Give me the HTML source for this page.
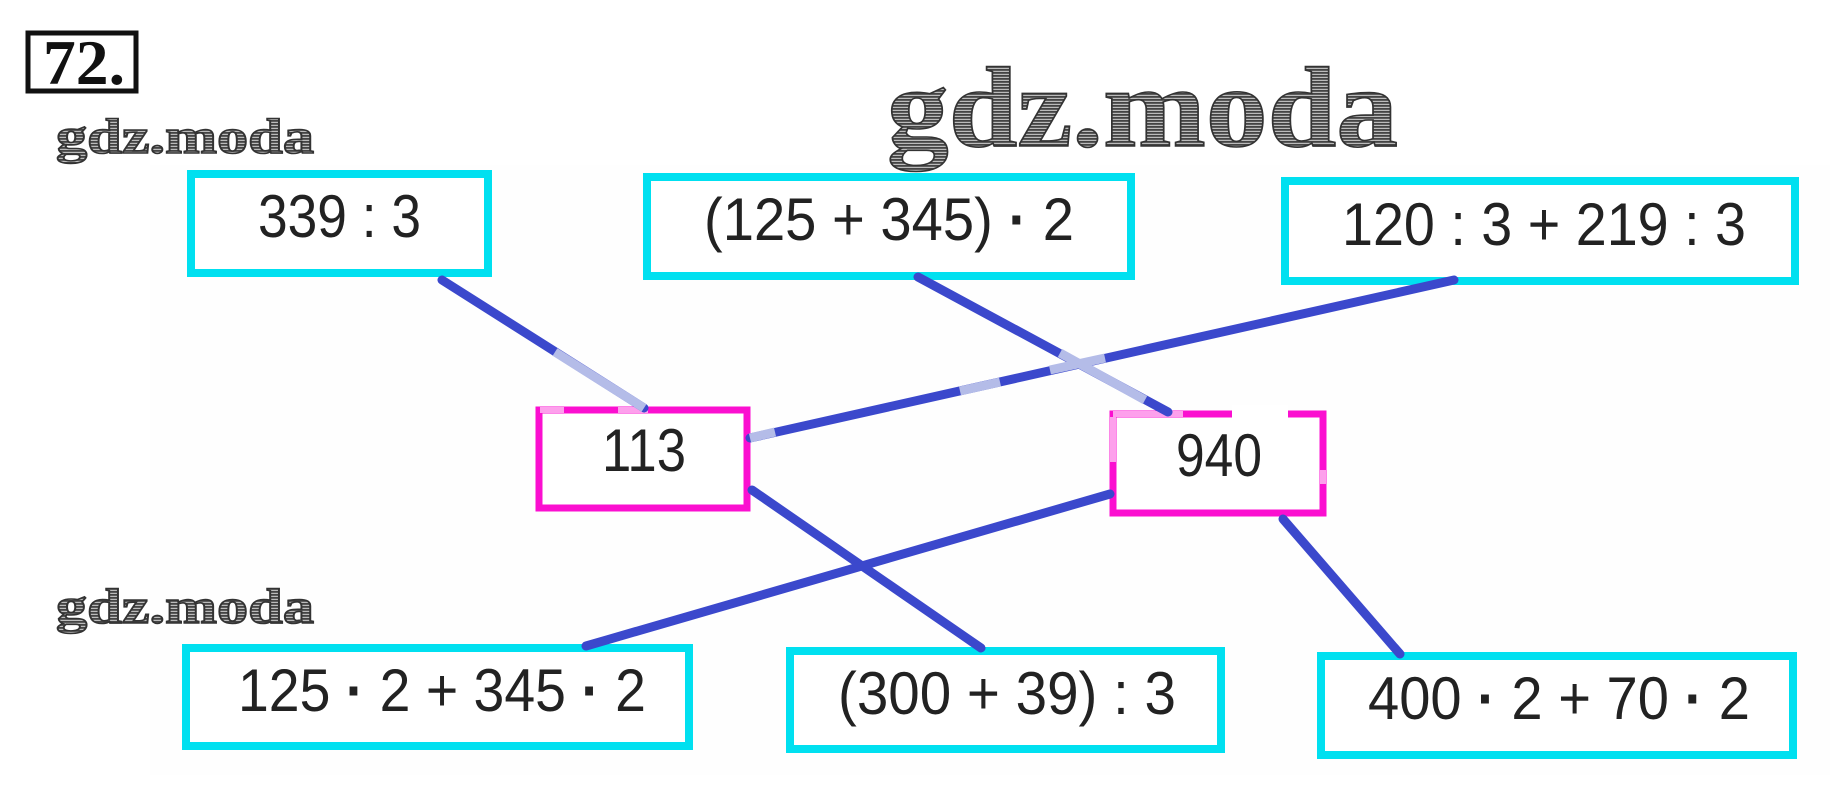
<!DOCTYPE html>
<html><head><meta charset="utf-8"><style>
html,body{margin:0;padding:0;background:#fff;width:1842px;height:809px;overflow:hidden}
svg{display:block}
.n{font-family:"Liberation Sans",sans-serif;font-size:60px;fill:#222}
.w{font-family:"Liberation Serif",serif;font-weight:bold;fill:url(#h);stroke:#333;stroke-width:1.6}
.c{fill:#fff;stroke:#00e0f0;stroke-width:8}
.m{fill:#fff;stroke:#fb0fd0;stroke-width:7}
.l{stroke:#3b48cc;fill:none;stroke-linecap:round}
.f{stroke:#b4bce8;fill:none;stroke-width:9}
.d{font-weight:bold}
</style></head><body>
<svg width="1842" height="809" viewBox="0 0 1842 809" xmlns="http://www.w3.org/2000/svg">
<defs><pattern id="h" patternUnits="userSpaceOnUse" width="4" height="3"><rect width="4" height="3" fill="#bbb"/><rect width="4" height="1.8" fill="#444"/></pattern></defs>
<rect x="150" y="165" width="1680" height="610" fill="#fefefe"/>
<rect x="28" y="33" width="108" height="58" fill="#fff" stroke="#111" stroke-width="5"/>
<text x="43" y="84" font-family="Liberation Serif,serif" font-weight="bold" font-size="64" fill="#111" textLength="82" lengthAdjust="spacingAndGlyphs">72.</text>
<text class="w" x="887" y="146" font-size="114" textLength="511" lengthAdjust="spacingAndGlyphs">gdz.moda</text>
<text class="w" x="56" y="153" font-size="50" textLength="258" lengthAdjust="spacingAndGlyphs" stroke-width=".9">gdz.moda</text>
<text class="w" x="56" y="623" font-size="50" textLength="258" lengthAdjust="spacingAndGlyphs" stroke-width=".9">gdz.moda</text>
<rect class="c" x="191" y="174" width="297" height="99"/>
<rect class="c" x="647" y="177" width="484" height="99"/>
<rect class="c" x="1285" y="181" width="510" height="100"/>
<rect class="c" x="186" y="648" width="503" height="98"/>
<rect class="c" x="790" y="651" width="431" height="98"/>
<rect class="c" x="1321" y="656" width="472" height="99"/>
<rect class="m" x="539" y="410" width="208" height="98"/>
<rect class="m" x="1113" y="414" width="210" height="99"/>
<rect x="1232" y="405" width="56" height="16" fill="#fff"/>
<rect x="1113" y="411" width="70" height="6" fill="#fda0ec"/>
<rect x="1110" y="417" width="6" height="45" fill="#fda0ec"/>
<rect x="540" y="407" width="24" height="6" fill="#fda0ec"/>
<rect x="618" y="407" width="30" height="6" fill="#fda0ec"/>
<rect x="1320" y="470" width="6" height="14" fill="#fda0ec"/>
<g class="l" stroke-width="9">
<line x1="442" y1="280" x2="644" y2="408"/>
<line x1="918" y1="277" x2="1168" y2="412"/>
<line x1="1454" y1="280" x2="750" y2="438"/>
<line x1="752" y1="490" x2="981" y2="648"/>
<line x1="1110" y1="494" x2="586" y2="646"/>
<line x1="1283" y1="519" x2="1400" y2="654"/>
</g>
<g class="f">
<line x1="555" y1="352" x2="644" y2="408"/>
<line x1="1060" y1="353" x2="1145" y2="400"/>
<line x1="1050" y1="370" x2="1105" y2="358"/>
<line x1="960" y1="391" x2="1000" y2="382"/>
<line x1="750" y1="438" x2="775" y2="432"/>
</g>
<text class="n" x="258" y="237" textLength="163" lengthAdjust="spacingAndGlyphs">339 : 3</text>
<text class="n" x="704" y="240" textLength="370" lengthAdjust="spacingAndGlyphs">(125 + 345) <tspan class="d">·</tspan> 2</text>
<text class="n" x="1342" y="245" textLength="404" lengthAdjust="spacingAndGlyphs">120 : 3 + 219 : 3</text>
<text class="n" x="238" y="711" textLength="408" lengthAdjust="spacingAndGlyphs">125 <tspan class="d">·</tspan> 2 + 345 <tspan class="d">·</tspan> 2</text>
<text class="n" x="838" y="714" textLength="338" lengthAdjust="spacingAndGlyphs">(300 + 39) : 3</text>
<text class="n" x="1368" y="719" textLength="382" lengthAdjust="spacingAndGlyphs">400 <tspan class="d">·</tspan> 2 + 70 <tspan class="d">·</tspan> 2</text>
<text class="n" x="602" y="471" textLength="84" lengthAdjust="spacingAndGlyphs">113</text>
<text class="n" x="1176" y="476" textLength="86" lengthAdjust="spacingAndGlyphs">940</text>
</svg>
</body></html>
